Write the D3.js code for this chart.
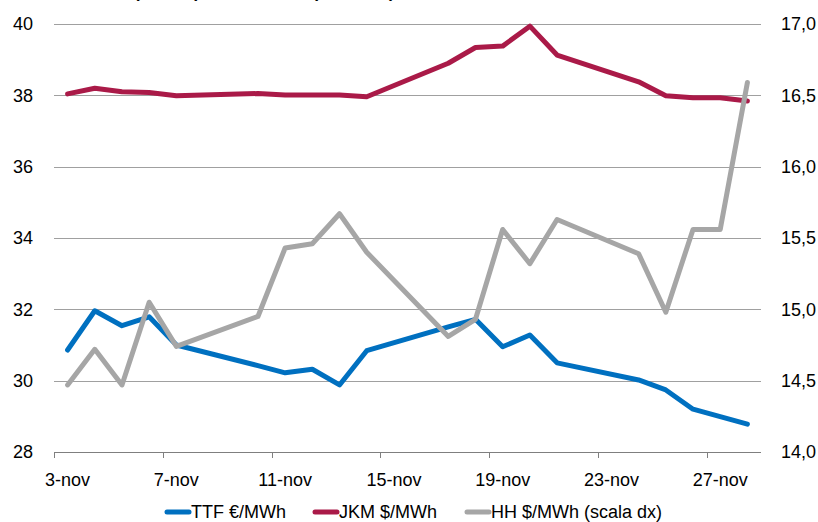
<!DOCTYPE html>
<html>
<head>
<meta charset="utf-8">
<script src="https://cdn.jsdelivr.net/npm/d3@7"></script>
<style>
  html, body { margin: 0; padding: 0; background: #fff; }
  svg { display: block; }
  text { font-family: "Liberation Sans", Arial, sans-serif; fill: #000; }
</style>
</head>
<body>
<svg id="chart" width="818" height="522"></svg>
<script>
// Trading days of November (day of month)
const days = [3, 4, 5, 6, 7, 10, 11, 12, 13, 14, 17, 18, 19, 20, 21, 24, 25, 26, 27, 28];

// TTF €/MWh (left axis)
const ttf = [30.86, 31.96, 31.54, 31.79, 31.00, 30.42, 30.22, 30.32, 29.88, 30.84,
             31.51, 31.72, 30.95, 31.28, 30.50, 30.02, 29.74, 29.20, 28.99, 28.78];

// JKM $/MWh (left axis)
const jkm = [38.04, 38.20, 38.10, 38.08, 37.99, 38.05, 38.01, 38.01, 38.01, 37.96,
             38.90, 39.34, 39.38, 39.94, 39.13, 38.38, 37.99, 37.93, 37.93, 37.84];

// HH $/MWh (right axis)
const hh = [14.47, 14.72, 14.47, 15.05, 14.74, 14.95, 15.43, 15.46, 15.67, 15.40,
            14.81, 14.93, 15.56, 15.32, 15.63, 15.39, 14.98, 15.56, 15.56, 16.59];

// Axis ticks
const leftTicks = [28, 30, 32, 34, 36, 38, 40];
const rightTicks = [14.0, 14.5, 15.0, 15.5, 16.0, 16.5, 17.0];
const xLabelDays = [3, 7, 11, 15, 19, 23, 27];
const xTickDays = [2.5, 6.5, 10.5, 14.5, 18.5, 22.5, 26.5];

const seriesNames = ["TTF €/MWh", "JKM $/MWh", "HH $/MWh (scala dx)"];
const seriesColors = ["#0070C0", "#AA1A48", "#A6A6A6"];

const svg = d3.select("#chart");

const plot = { left: 54, right: 761, top: 24, bottom: 452 };

const x = d3.scaleLinear().domain([2.5, 28.5]).range([plot.left, plot.right]);
const yL = d3.scaleLinear().domain([28, 40]).range([plot.bottom, plot.top]);
const yR = d3.scaleLinear().domain([14, 17]).range([plot.bottom, plot.top]);

// Title (sits above the top edge; only the parentheses' tails reach the page)
svg.append("text")
  .attr("x", 98)
  .attr("y", -2)
  .attr("font-size", 17)
  .attr("font-weight", "bold")
  .text("TTF (€/MWh) vs JKM e HH ($/MMBtu)");

// Horizontal gridlines
svg.append("g")
  .selectAll("line")
  .data(leftTicks.filter(d => d !== 28))
  .join("line")
  .attr("x1", plot.left)
  .attr("x2", plot.right)
  .attr("y1", d => Math.round(yL(d)) + 0.5)
  .attr("y2", d => Math.round(yL(d)) + 0.5)
  .attr("stroke", "#A0A0A0")
  .attr("stroke-width", 1);

// Left axis labels
const fmtL = d3.format("d");
svg.append("g")
  .selectAll("text")
  .data(leftTicks)
  .join("text")
  .attr("x", 33)
  .attr("y", d => yL(d))
  .attr("dy", "0.35em")
  .attr("text-anchor", "end")
  .attr("font-size", 18)
  .text(d => fmtL(d));

// Right axis labels (comma decimals)
const fmtR = d => d3.format(".1f")(d).replace(".", ",");
svg.append("g")
  .selectAll("text")
  .data(rightTicks)
  .join("text")
  .attr("x", 781)
  .attr("y", d => yR(d))
  .attr("dy", "0.35em")
  .attr("text-anchor", "start")
  .attr("font-size", 18)
  .text(d => fmtR(d));

// Bottom axis with tick marks at period boundaries
const xAxis = svg.append("g");
xAxis.append("line")
  .attr("x1", plot.left)
  .attr("x2", plot.right)
  .attr("y1", plot.bottom + 0.5)
  .attr("y2", plot.bottom + 0.5)
  .attr("stroke", "#7F7F7F");
xAxis.selectAll("line.tick")
  .data(xTickDays)
  .join("line")
  .attr("class", "tick")
  .attr("x1", d => Math.round(x(d)) + 0.5)
  .attr("x2", d => Math.round(x(d)) + 0.5)
  .attr("y1", plot.bottom)
  .attr("y2", plot.bottom + 6)
  .attr("stroke", "#7F7F7F");
xAxis.selectAll("text")
  .data(xLabelDays)
  .join("text")
  .attr("x", d => x(d))
  .attr("y", 480)
  .attr("dy", "0.35em")
  .attr("text-anchor", "middle")
  .attr("font-size", 18)
  .text(d => d + "-nov");

// Series lines
const series = [
  { values: ttf, y: yL },
  { values: jkm, y: yL },
  { values: hh, y: yR }
];

series.forEach((s, i) => {
  const line = d3.line()
    .x((d, j) => x(days[j]))
    .y(d => s.y(d));
  svg.append("path")
    .datum(s.values)
    .attr("d", line)
    .attr("fill", "none")
    .attr("stroke", seriesColors[i])
    .attr("stroke-width", 5)
    .attr("stroke-linejoin", "round")
    .attr("stroke-linecap", "round");
});

// Legend
const legendX = [165, 313, 465];
const legend = svg.append("g");
seriesNames.forEach((name, i) => {
  legend.append("line")
    .attr("x1", legendX[i] + 2)
    .attr("x2", legendX[i] + 24)
    .attr("y1", 512)
    .attr("y2", 512)
    .attr("stroke", seriesColors[i])
    .attr("stroke-width", 5)
    .attr("stroke-linecap", "round");
  legend.append("text")
    .attr("x", legendX[i] + 26)
    .attr("y", 512)
    .attr("dy", "0.35em")
    .attr("font-size", 18)
    .text(name);
});
</script>
</body>
</html>
